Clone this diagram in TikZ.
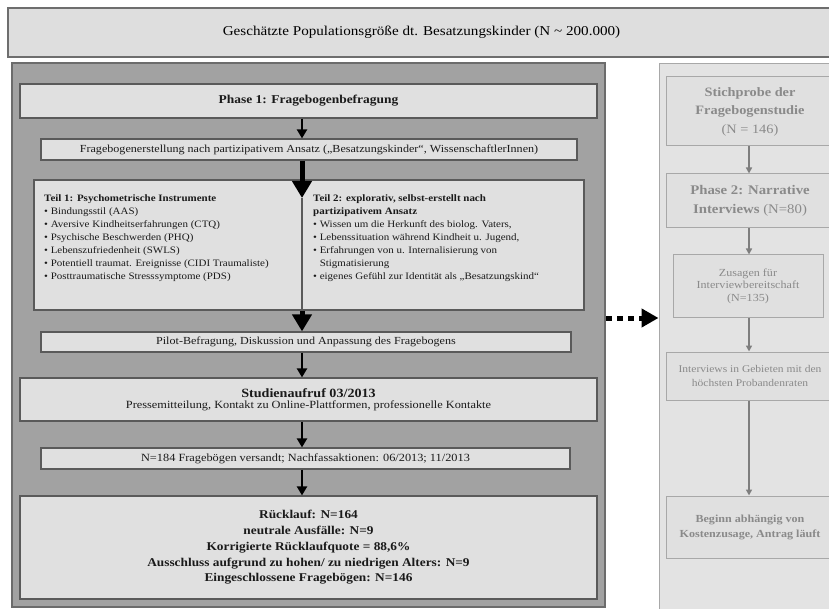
\documentclass[tikz,border=0pt]{standalone}
\usepackage{fontspec}
\setmainfont{Liberation Serif}[FakeStretch=1.12]
\usetikzlibrary{arrows.meta}
\definecolor{topfill}{HTML}{DEDEDE}
\definecolor{topline}{HTML}{6E6E6E}
\definecolor{panelfill}{HTML}{A2A2A2}
\definecolor{panelline}{HTML}{6C6C6C}
\definecolor{boxfill}{HTML}{E0E0E0}
\definecolor{boxline}{HTML}{5A5A5A}
\definecolor{gpanel}{HTML}{E3E3E3}
\definecolor{gline}{HTML}{A8A8A8}
\definecolor{gtext}{HTML}{8A8A8A}
\definecolor{garrow}{HTML}{7E7E7E}
\definecolor{ink}{HTML}{1A1A1A}
\begin{document}
\begin{tikzpicture}[x=1pt,y=-1pt,
    box/.style={draw=boxline,fill=boxfill,line width=1.2pt,inner sep=0pt,align=center,text=ink},
    gbox/.style={draw=gline,fill=boxfill,line width=1pt,inner sep=0pt,align=center,text=gtext},
    arr/.style={-{Triangle[length=9pt,width=10pt]},line width=2.5pt},
    fatarr/.style={-{Triangle[length=17pt,width=19pt]},line width=5pt},
    garr/.style={-{Triangle[length=6pt,width=6pt]},line width=1.6pt,draw=garrow,color=garrow}]
    \useasboundingbox (0,0) rectangle (829,609);
    \clip (0,0) rectangle (829,609);
    \fill[white] (0,0) rectangle (829,609);
    % Kopfzeile
    \node[draw=topline,fill=topfill,line width=1.2pt,minimum width=827pt,minimum height=49pt,inner sep=0pt,
        font=\fontsize{13.5}{16}\selectfont] (pop) at (421.5,32.5)
        {Geschätzte Populationsgröße dt. Besatzungskinder (N \textasciitilde{} 200.000)};
    % Phase 1 (links)
    \node[draw=panelline,fill=panelfill,line width=1.2pt,minimum width=593pt,minimum height=544pt] (panelA) at (308.5,335) {};
    \coordinate (spine) at (302,0);
    \node[box,minimum width=577pt,minimum height=34pt,font=\fontsize{12}{15}\selectfont\bfseries] (phase) at (308.5,101)
        {Phase 1: Fragebogenbefragung};
    \node[box,minimum width=536pt,minimum height=21pt,font=\fontsize{10.8}{12}\selectfont] (frage) at (309,149.5)
        {Fragebogenerstellung nach partizipativem Ansatz („Besatzungskinder“, WissenschaftlerInnen)};
    \node[box,minimum width=550pt,minimum height=130pt] (teil) at (309,245) {};
    \node[anchor=north west,align=left,inner sep=0pt,text=ink,font=\fontsize{9.8}{13}\selectfont] (teilA) at (44,195)
        {\textbf{Teil 1: Psychometrische Instrumente}\\
        • Bindungsstil (AAS)\\
        • Aversive Kindheitserfahrungen (CTQ)\\
        • Psychische Beschwerden (PHQ)\\
        • Lebenszufriedenheit (SWLS)\\
        • Potentiell traumat. Ereignisse (CIDI Traumaliste)\\
        • Posttraumatische Stresssymptome (PDS)};
    \node[anchor=north west,align=left,inner sep=0pt,text=ink,font=\fontsize{9.8}{13}\selectfont] (teilB) at (313,195)
        {\textbf{Teil 2: explorativ, selbst-erstellt nach}\\
        \textbf{partizipativem Ansatz}\\
        • Wissen um die Herkunft des biolog. Vaters,\\
        • Lebenssituation während Kindheit u. Jugend,\\
        • Erfahrungen von u. Internalisierung von\\
        \phantom{• }Stigmatisierung\\
        • eigenes Gefühl zur Identität als „Besatzungskind“};
    \node[box,minimum width=530pt,minimum height=20pt,font=\fontsize{10.8}{12}\selectfont] (pilot) at (306,342)
        {Pilot-Befragung, Diskussion und Anpassung des Fragebogens};
    \node[box,minimum width=577pt,minimum height=43pt,font=\fontsize{11}{12}\selectfont] (aufruf) at (308.5,399.5)
        {{\fontsize{12.6}{16}\selectfont\bfseries Studienaufruf 03/2013}\\[-1pt]
        Pressemitteilung, Kontakt zu Online-Plattformen, professionelle Kontakte};
    \node[box,minimum width=529pt,minimum height=21pt,font=\fontsize{11}{12}\selectfont] (versand) at (305.5,458.5)
        {N=184 Fragebögen versandt; Nachfassaktionen: 06/2013; 11/2013};
    \node[box,minimum width=577pt,minimum height=103pt,font=\fontsize{11.9}{15.7}\selectfont\bfseries] (ruecklauf) at (308.5,547.5)
        {Rücklauf: N=164\\
        neutrale Ausfälle: N=9\\
        Korrigierte Rücklaufquote = 88,6\%\\
        Ausschluss aufgrund zu hohen/ zu niedrigen Alters: N=9\\
        Eingeschlossene Fragebögen: N=146};
    \coordinate (teiltip) at (302,198);
    \draw[arr] (phase.south -| spine) -- (frage.north -| spine);
    \draw[fatarr] (frage.south -| spine) -- (teiltip);
    \draw[line width=1.4pt,boxline] (teiltip) -- (teil.south -| spine);
    \draw[fatarr] (teil.south -| spine) -- (pilot.north -| spine);
    \draw[arr] (pilot.south -| spine) -- (aufruf.north -| spine);
    \draw[arr] (aufruf.south -| spine) -- (versand.north -| spine);
    \draw[arr] (versand.south -| spine) -- (ruecklauf.north -| spine);
    % Phase 2 (rechts)
    \node[draw=gline,fill=gpanel,line width=1pt,minimum width=176pt,minimum height=548pt] (panelB) at (747,338) {};
    \node[gbox,minimum width=168pt,minimum height=69pt,font=\fontsize{12.8}{18.5}\selectfont] (stich) at (750,111.5)
        {\textbf{Stichprobe der}\\ \textbf{Fragebogenstudie}\\ (N = 146)};
    \node[gbox,minimum width=168pt,minimum height=54pt,font=\fontsize{13.2}{18.5}\selectfont] (phasezwei) at (750,201)
        {\textbf{Phase 2: Narrative}\\ \textbf{Interviews} (N=80)};
    \node[gbox,minimum width=150pt,minimum height=62pt,font=\fontsize{10.8}{12.5}\selectfont] (zusage) at (748,286)
        {Zusagen für\\ Interviewbereitschaft\\ (N=135)};
    \node[gbox,minimum width=168pt,minimum height=48pt,font=\fontsize{10.3}{14}\selectfont] (interv) at (750,376)
        {Interviews in Gebieten mit den\\ höchsten Probandenraten};
    \node[gbox,minimum width=168pt,minimum height=62pt,font=\fontsize{10.8}{15}\selectfont\bfseries] (beginn) at (750,527)
        {Beginn abhängig von\\ Kostenzusage, Antrag läuft};
    \coordinate (gspine) at (749,0);
    \draw[garr] (stich.south -| gspine) -- (phasezwei.north -| gspine);
    \draw[garr] (phasezwei.south -| gspine) -- (zusage.north -| gspine);
    \draw[garr] (zusage.south -| gspine) -- (interv.north -| gspine);
    \draw[garr] (interv.south -| gspine) -- (beginn.north -| gspine);
    % Uebergang
    \coordinate (dotstart) at (606,318);
    \draw[-{Triangle[length=17pt,width=18pt]},line width=5pt,dash pattern=on 6pt off 5pt] (dotstart) -- (dotstart -| panelB.west);
\end{tikzpicture}
\end{document}
